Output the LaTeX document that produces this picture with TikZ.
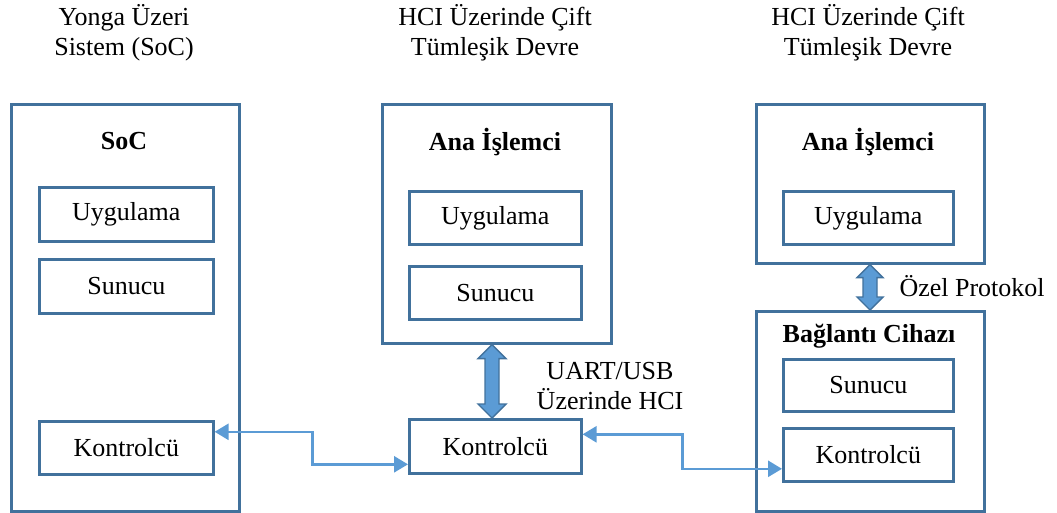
\documentclass[tikz,border=0pt]{standalone}
\usepackage{fontspec}
\setmainfont{Liberation Serif}
\usetikzlibrary{arrows.meta,calc}
\definecolor{boxc}{RGB}{65,113,156}
\definecolor{arrc}{RGB}{91,155,213}
\tikzset{
  box/.style={draw=boxc, line width=2.6pt, anchor=north west, inner sep=0pt},
  lbl/.style={font=\fontsize{26}{30}\selectfont, align=center},
  blbl/.style={font=\fontsize{26}{30}\selectfont\bfseries},
  conn/.style={draw=arrc, line width=2.6pt, {Triangle[length=14pt,width=16pt]}-{Triangle[length=14pt,width=16pt]}},
  fat/.style={fill=arrc, draw=boxc, line width=1.4pt}
}
\newcommand{\dblarr}[5]{% top, bottom, headlen, headhalf, shafthalf
  \path[fat] (#1) -- ($(#1)+(#4,#3)$) -- ($(#1)+(#5,#3)$) -- ($(#2)+(#5,-#3)$) -- ($(#2)+(#4,-#3)$) -- (#2)
   -- ($(#2)+(-#4,-#3)$) -- ($(#2)+(-#5,-#3)$) -- ($(#1)+(-#5,#3)$) -- ($(#1)+(-#4,#3)$) -- cycle;}
\begin{document}
\begin{tikzpicture}[x=1pt,y=-1pt]
\useasboundingbox (0,0) rectangle (1057,512);
% titles
\node[lbl] (t1) at (124,33) {Yonga Üzeri\\Sistem (SoC)};
\node[lbl] (t2) at (495,33) {HCI Üzerinde Çift\\Tümleşik Devre};
\node[lbl] (t3) at (868,33) {HCI Üzerinde Çift\\Tümleşik Devre};
% left
\node[box, minimum width=228pt, minimum height=407pt] (soc) at (10,103) {};
\node[blbl] (soct) at (124,141) {SoC};
\node[box, minimum width=174pt, minimum height=54pt] (lu) at (38,186) {};
\node[lbl] at (lu.center) {Uygulama};
\node[box, minimum width=174pt, minimum height=54pt] (ls) at (38,258) {};
\node[lbl] at (ls.center) {Sunucu};
\node[box, minimum width=174pt, minimum height=53pt] (lk) at (38,420) {};
\node[lbl] at (lk.center) {Kontrolcü};
% middle
\node[box, minimum width=229pt, minimum height=239pt] (mh) at (381,103) {};
\node[blbl] (mht) at (495,142) {Ana İşlemci};
\node[box, minimum width=172pt, minimum height=53pt] (mu) at (408,190) {};
\node[lbl] at (mu.center) {Uygulama};
\node[box, minimum width=172pt, minimum height=53pt] (ms) at (408,265) {};
\node[lbl] at (ms.center) {Sunucu};
\node[box, minimum width=172pt, minimum height=54pt] (mk) at (408,418) {};
\node[lbl] at (mk.center) {Kontrolcü};
\node[lbl] (uart) at (610,386) {UART/USB\\Üzerinde HCI};
% right
\node[box, minimum width=228pt, minimum height=159pt] (rh) at (755,103) {};
\node[blbl] (rht) at (868,142) {Ana İşlemci};
\node[box, minimum width=170pt, minimum height=53pt] (ru) at (782,190) {};
\node[lbl] at (ru.center) {Uygulama};
\node[box, minimum width=228pt, minimum height=200pt] (rb) at (755,310) {};
\node[blbl] (rbt) at (869,336) {Bağlantı Cihazı};
\node[box, minimum width=170pt, minimum height=52pt] (rs) at (782,358) {};
\node[lbl] at (rs.center) {Sunucu};
\node[box, minimum width=170pt, minimum height=53pt] (rk) at (782,427) {};
\node[lbl] at (rk.center) {Kontrolcü};
\node[lbl, anchor=west] (oz) at (896,286) {Özel Protokol};
% fat arrows
\coordinate (a1) at (mh.south -| 492,0);
\coordinate (a2) at (mk.north -| 492,0);
\dblarr{a1}{a2}{14}{14}{7}
\coordinate (b1) at (rh.south -| 870,0);
\coordinate (b2) at (rb.north -| 870,0);
\dblarr{b1}{b2}{13}{13}{7}
% connectors
\draw[conn] ([yshift=16pt]lk.east) -- ++(98,0) |- ([yshift=-18pt]mk.west);
\draw[conn] ([yshift=12pt]mk.east) -- ++(100,0) |- ([yshift=-14pt]rk.west);
\end{tikzpicture}
\end{document}
